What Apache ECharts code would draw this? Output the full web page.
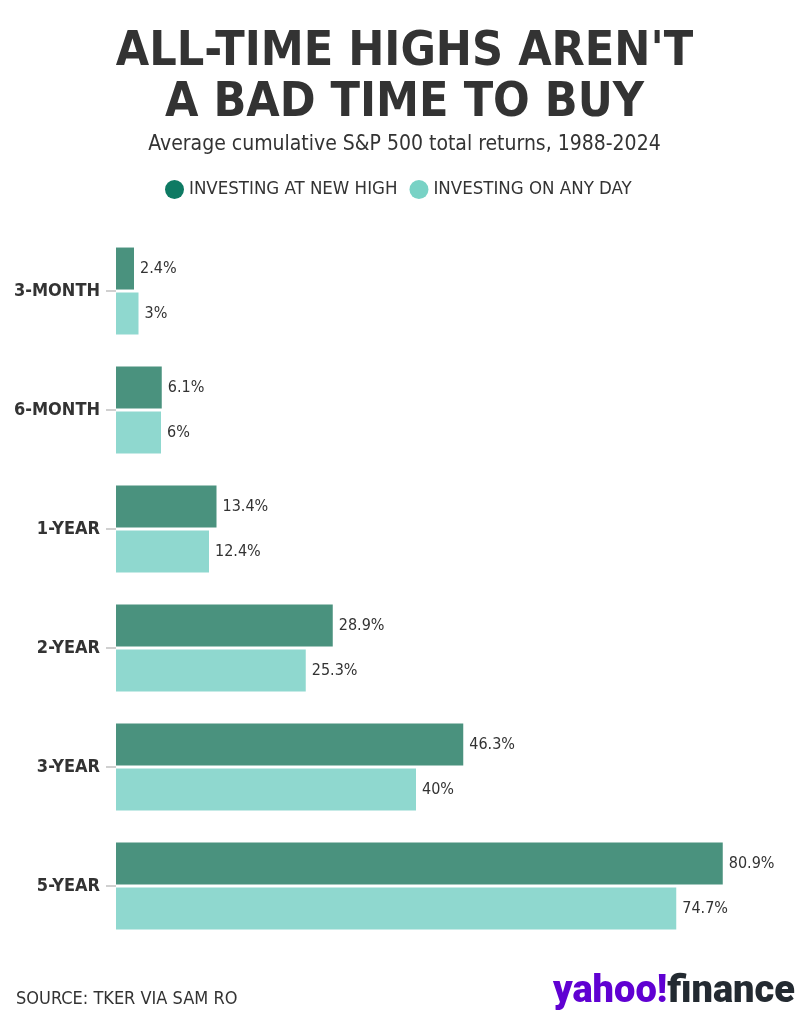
<!DOCTYPE html>
<html>
<head>
<meta charset="utf-8">
<script src="https://cdn.jsdelivr.net/npm/echarts@6/dist/echarts.min.js"></script>
<style>
html,body{margin:0;padding:0;background:#fff;}
#c{width:809px;height:1024px;}
</style>
</head>
<body>
<div id="c"></div>
<script>
const categories = ['3-MONTH', '6-MONTH', '1-YEAR', '2-YEAR', '3-YEAR', '5-YEAR'];
const seriesNames = ['INVESTING AT NEW HIGH', 'INVESTING ON ANY DAY'];
const newHighValues = [2.4, 6.1, 13.4, 28.9, 46.3, 80.9];
const anyDayValues = [3, 6, 12.4, 25.3, 40, 74.7];

const condensed = '"Liberation Sans Narrow", "DejaVu Sans Condensed", Roboto, sans-serif';
const chart = echarts.init(document.getElementById('c'));
chart.setOption({
  backgroundColor: '#ffffff',
  animation: false,
  title: [{
    text: "ALL-TIME HIGHS AREN'T\nA BAD TIME TO BUY",
    left: 'center', top: 22,
    textStyle: { fontFamily: condensed, fontWeight: 'bold', fontSize: 48, lineHeight: 51, color: '#333333' }
  }, {
    text: 'Average cumulative S&P 500 total returns, 1988-2024',
    left: 'center', top: 129,
    textStyle: { fontFamily: condensed, fontWeight: 'normal', fontSize: 21, color: '#333333' }
  }, {
    text: 'SOURCE: TKER VIA SAM RO',
    left: 11, top: 985,
    textStyle: { fontFamily: condensed, fontWeight: 'normal', fontSize: 18, color: '#333333' }
  }],
  legend: {
    top: 175, left: 160,
    icon: 'circle', itemWidth: 19, itemHeight: 19, itemGap: 12,
    textStyle: { fontFamily: condensed, fontSize: 18.5, color: '#333333' },
    data: [
      { name: seriesNames[0], itemStyle: { color: '#0e7a63' } },
      { name: seriesNames[1], itemStyle: { color: '#78d2c5' } }
    ]
  },
  graphic: [{
    type: 'text', right: 14, top: 973,
    style: {
      text: '{a|yahoo!}{b|finance}',
      rich: {
        a: { fontFamily: 'Roboto, sans-serif', fontWeight: 900, fontSize: 38, fill: '#6001d2' },
        b: { fontFamily: 'Roboto, sans-serif', fontWeight: 900, fontSize: 38, fill: '#232a31' }
      }
    }
  }],
  grid: { left: 116, top: 231.5, width: 675, height: 714, containLabel: false },
  xAxis: { type: 'value', min: 0, max: 90, show: false },
  yAxis: {
    type: 'category', data: categories, inverse: true,
    axisLine: { show: false },
    axisTick: { show: true, alignWithLabel: true, length: 10, lineStyle: { color: '#d0d0d0', width: 2 } },
    axisLabel: { margin: 16, fontFamily: condensed, fontWeight: 'bold', fontSize: 18, color: '#333333' }
  },
  series: [{
    name: seriesNames[0], type: 'bar', data: newHighValues,
    barWidth: 42, barGap: '7%',
    itemStyle: { color: '#4a927e' },
    label: { show: true, position: 'right', distance: 6, formatter: p => p.value + '%', fontFamily: condensed, fontSize: 16, color: '#333333' }
  }, {
    name: seriesNames[1], type: 'bar', data: anyDayValues,
    barWidth: 42, barGap: '7%',
    itemStyle: { color: '#8fd8cf' },
    label: { show: true, position: 'right', distance: 6, formatter: p => p.value + '%', fontFamily: condensed, fontSize: 16, color: '#333333' }
  }]
});
</script>
</body>
</html>
